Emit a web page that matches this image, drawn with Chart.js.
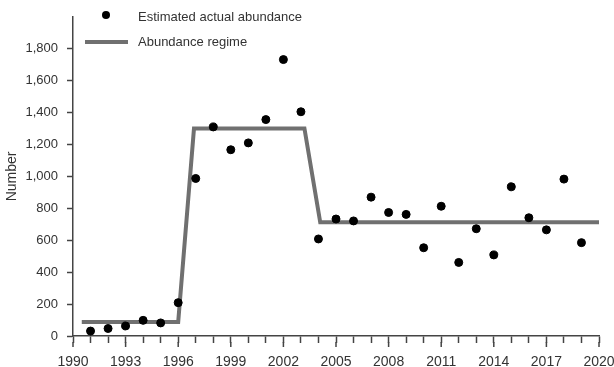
<!DOCTYPE html>
<html>
<head>
<meta charset="utf-8">
<script src="https://cdn.jsdelivr.net/npm/chart.js@4/dist/chart.umd.min.js"></script>
<style>
  html, body { margin: 0; padding: 0; background: #fff; }
  .chart-container { position: relative; width: 614px; height: 367px; }
</style>
</head>
<body>
<div class="chart-container"><canvas id="myChart"></canvas></div>
<script>
const years = [1991, 1992, 1993, 1994, 1995, 1996, 1997, 1998, 1999, 2000, 2001, 2002, 2003, 2004, 2005,
  2006, 2007, 2008, 2009, 2010, 2011, 2012, 2013, 2014, 2015, 2016, 2017, 2018, 2019];
const abundance = [31, 47, 63, 98, 82, 209, 987, 1310, 1167, 1210, 1356, 1732, 1405, 608, 733,
  721, 870, 774, 762, 553, 813, 461, 672, 508, 935, 741, 665, 983, 585];

const regimeYears = [1990.5, 1996, 1996.9, 2003.2, 2004.1, 2020.2];
const regimeValues = [88, 88, 1300, 1300, 712, 712];

const yTicks = [0, 200, 400, 600, 800, 1000, 1200, 1400, 1600, 1800];
const labelLegend = ['Estimated actual abundance', 'Abundance regime'];

const font = { family: "'Liberation Sans', Arial, sans-serif", size: 13 };
const bigFont = { family: "'Liberation Sans', Arial, sans-serif", size: 14 };
const textColor = '#333';
const axisColor = '#444';

// legend sits inside the plot, top left
const legendPlugin = {
  id: 'insideLegend',
  afterDraw: (chart) => {
    const ctx = chart.ctx;
    ctx.save();
    ctx.font = `${font.size}px ${font.family}`;
    ctx.fillStyle = textColor;
    ctx.textBaseline = 'middle';
    ctx.fillText(labelLegend[0], 138, 17);
    ctx.fillText(labelLegend[1], 138, 42);
    ctx.beginPath();
    ctx.arc(106, 15, 4, 0, Math.PI * 2);
    ctx.fillStyle = '#000';
    ctx.fill();
    ctx.beginPath();
    ctx.moveTo(85, 42);
    ctx.lineTo(128, 42);
    ctx.strokeStyle = '#707070';
    ctx.lineWidth = 4;
    ctx.stroke();
    ctx.restore();
  }
};

// labelled years get a longer tick mark
const majorTicks = {
  id: 'majorTicks',
  afterDraw: (chart) => {
    const x = chart.scales.x;
    const ctx = chart.ctx;
    ctx.save();
    ctx.strokeStyle = axisColor;
    ctx.lineWidth = 1.5;
    for (let v = 1990; v <= 2020; v += 3) {
      const px = x.getPixelForValue(v);
      ctx.beginPath();
      ctx.moveTo(px, x.top + 6);
      ctx.lineTo(px, x.top + 11);
      ctx.stroke();
    }
    ctx.restore();
  }
};

const ctx = document.getElementById('myChart').getContext('2d');
const myChart = new Chart(ctx, {
  data: {
    datasets: [{
      type: 'scatter',
      label: labelLegend[0],
      data: years.map((y, i) => ({ x: y, y: abundance[i] })),
      backgroundColor: '#000',
      borderColor: '#000',
      pointRadius: 4,
      order: 0,
    }, {
      type: 'line',
      label: labelLegend[1],
      data: regimeYears.map((y, i) => ({ x: y, y: regimeValues[i] })),
      borderColor: '#707070',
      borderWidth: 4,
      pointRadius: 0,
      tension: 0,
      order: 1,
    }],
  },
  options: {
    responsive: true,
    maintainAspectRatio: false,
    animation: false,
    layout: { padding: { left: 0, right: 15, top: 10, bottom: 0 } },
    plugins: { legend: { display: false }, tooltip: { enabled: false } },
    scales: {
      x: {
        type: 'linear',
        min: 1990,
        max: 2020,
        afterFit: (scale) => {
          scale.height = 31;
          scale.paddingLeft = 0;
          scale.paddingRight = 0;
        },
        grid: { drawOnChartArea: false, tickLength: 7, tickColor: axisColor, tickWidth: 1.5 },
        border: { color: axisColor, width: 1.5 },
        ticks: {
          stepSize: 1,
          autoSkip: false,
          maxRotation: 0,
          padding: 11,
          color: textColor,
          font: bigFont,
          callback: (v) => ((v - 1990) % 3 === 0 ? String(v) : ''),
        },
      },
      y: {
        min: 0,
        max: 2000,
        afterFit: (scale) => { scale.width = 73; },
        afterBuildTicks: (scale) => { scale.ticks = yTicks.map(v => ({ value: v })); },
        grid: { drawOnChartArea: false, tickLength: 6, tickColor: axisColor, tickWidth: 1.5 },
        border: { color: axisColor, width: 1.5 },
        title: { display: true, text: 'Number', color: textColor, font: bigFont, padding: { top: 4, bottom: 0 } },
        ticks: {
          padding: 9,
          color: textColor,
          font: font,
          callback: (v) => v.toLocaleString('en-US'),
        },
      },
    },
  },
  plugins: [legendPlugin, majorTicks],
});
</script>
</body>
</html>
